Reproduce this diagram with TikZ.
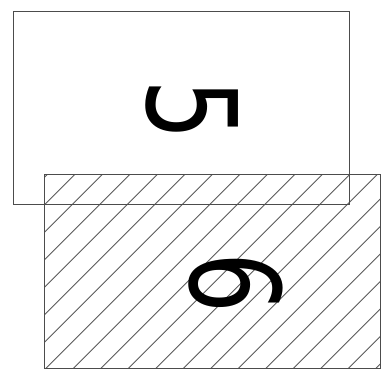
\documentclass[tikz,border=0pt]{standalone}
\usepackage{fontspec}
\setmainfont{DejaVu Sans}
\begin{document}
\begin{tikzpicture}[x=0.02cm, y=-0.02cm,
        frame/.style={draw=black!70, line width=0.55pt},
        hatch/.style={draw=black!65, line width=0.5pt},
        digit/.style={rotate=-90, xscale=0.77, inner sep=0pt,
            font=\fontsize{71}{71}\selectfont}]
        \useasboundingbox (0,0) rectangle (382,370);

        \begin{scope}
            \clip (44.5,174) rectangle (380,368);
            \foreach \k in {0,...,19}
                \draw[hatch] ({221.7+27.5*\k-400},400) -- ({221.7+27.5*\k-150},150);
        \end{scope}

        \draw[frame] (13,11) rectangle (349,204);
        \draw[frame] (44.5,174) rectangle (380,368);

        \node[digit] (five) at (192,110) {5};
        \node[digit] (six) at (236,283) {6};
    \end{tikzpicture}
\end{document}
